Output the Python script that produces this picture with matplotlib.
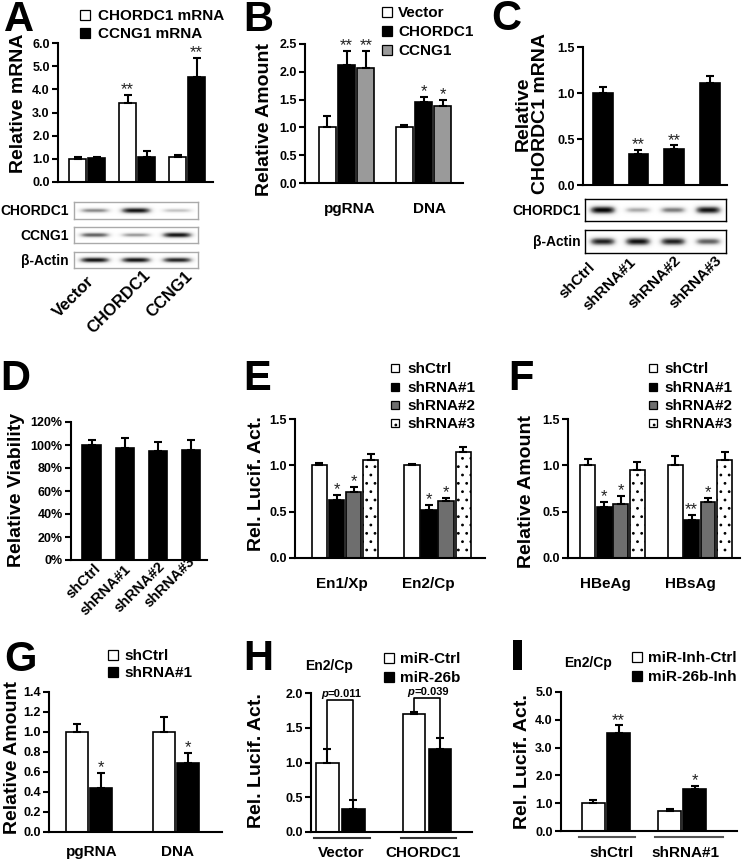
import numpy as np
import matplotlib
matplotlib.use('Agg')
import matplotlib.pyplot as plt
from matplotlib.patches import Rectangle
from matplotlib.transforms import blended_transform_factory

plt.rcParams['font.family'] = ['Liberation Sans', 'DejaVu Sans']
plt.rcParams['font.weight'] = 'bold'
plt.rcParams['hatch.linewidth'] = 0.8

# ---------------- data ----------------
A_groups = ['Vector', 'CHORDC1', 'CCNG1']
A_chordc1 = [1.00, 3.40, 1.07]
A_chordc1_err = [0.07, 0.36, 0.10]
A_chordc1_sig = ['', '**', '']
A_ccng1 = [1.02, 1.10, 4.52]
A_ccng1_err = [0.07, 0.22, 0.82]
A_ccng1_sig = ['', '', '**']
A_blot_rows = ['CHORDC1', 'CCNG1', 'β-Actin']
A_blot_chordc1 = [0.55, 0.95, 0.35]
A_blot_ccng1 = [0.70, 0.50, 0.95]
A_blot_actin = [0.95, 0.95, 0.90]

B_groups = ['pgRNA', 'DNA']
B_vector = [1.00, 1.00]
B_vector_err = [0.20, 0.05]
B_chordc1 = [2.13, 1.45]
B_chordc1_err = [0.24, 0.10]
B_chordc1_sig = ['**', '*']
B_ccng1 = [2.06, 1.39]
B_ccng1_err = [0.31, 0.10]
B_ccng1_sig = ['**', '*']

C_groups = ['shCtrl', 'shRNA#1', 'shRNA#2', 'shRNA#3']
C_vals = [1.00, 0.34, 0.39, 1.11]
C_err = [0.06, 0.04, 0.04, 0.08]
C_sig = ['', '**', '**', '']
C_blot_rows = ['CHORDC1', 'β-Actin']
C_blot_chordc1 = [1.00, 0.45, 0.60, 0.95]
C_blot_actin = [0.90, 0.95, 0.90, 0.70]

D_groups = ['shCtrl', 'shRNA#1', 'shRNA#2', 'shRNA#3']
D_vals = [1.00, 0.97, 0.95, 0.96]
D_err = [0.045, 0.09, 0.075, 0.085]

E_groups = ['En1/Xp', 'En2/Cp']
E_shctrl = [1.00, 1.00]
E_shctrl_err = [0.03, 0.015]
E_sh1 = [0.625, 0.52]
E_sh1_err = [0.055, 0.05]
E_sh1_sig = ['*', '*']
E_sh2 = [0.715, 0.615]
E_sh2_err = [0.05, 0.03]
E_sh2_sig = ['*', '*']
E_sh3 = [1.057, 1.14]
E_sh3_err = [0.07, 0.06]

F_groups = ['HBeAg', 'HBsAg']
F_shctrl = [1.00, 1.00]
F_shctrl_err = [0.07, 0.10]
F_sh1 = [0.553, 0.41]
F_sh1_err = [0.05, 0.055]
F_sh1_sig = ['*', '**']
F_sh2 = [0.58, 0.60]
F_sh2_err = [0.09, 0.05]
F_sh2_sig = ['*', '*']
F_sh3 = [0.95, 1.06]
F_sh3_err = [0.085, 0.085]

sh_labels = ['shCtrl', 'shRNA#1', 'shRNA#2', 'shRNA#3']

G_groups = ['pgRNA', 'DNA']
G_shctrl = [1.00, 1.00]
G_shctrl_err = [0.08, 0.15]
G_sh1 = [0.44, 0.69]
G_sh1_err = [0.15, 0.10]
G_sh1_sig = ['*', '*']

H_groups = ['Vector', 'CHORDC1']
H_mirctrl = [1.00, 1.70]
H_mirctrl_err = [0.20, 0.03]
H_mir26b = [0.33, 1.20]
H_mir26b_err = [0.13, 0.15]
H_pvals = ['0.011', '0.039']
H_bracket_top = [1.90, 1.93]

I_groups = ['shCtrl', 'shRNA#1']
I_inhctrl = [1.02, 0.72]
I_inhctrl_err = [0.08, 0.08]
I_inh26b = [3.52, 1.51]
I_inh26b_err = [0.28, 0.10]
I_inh26b_sig = ['**', '*']

# ---------------- helpers ----------------
W, H = 745, 861
PX = 100 / 72.0
fig = plt.figure(figsize=(W / 100, H / 100), dpi=100)


def add_ax(l, t, r, b):
    return fig.add_axes([l / W, 1 - b / H, (r - l) / W, (b - t) / H])


def ctext(x, y, s, fs, **kw):
    base = y + 0.358 * fs * PX
    fig.text(x / W, 1 - base / H, s, fontsize=fs, va='baseline', **kw)


def ylab(x, y, s, fs=14):
    fig.text((x + 0.1 * fs * PX) / W, 1 - y / H, s, fontsize=fs, rotation=90,
             ha='center', va='center', multialignment='center', linespacing=1.0)


def rotlab(x, y, s, fs=11):
    fig.text(x / W, 1 - y / H, s, fontsize=fs, rotation=45, ha='center',
             va='center', rotation_mode='anchor')


def letter(x, base, s):
    fig.text(x / W, 1 - base / H, s, fontsize=30, va='baseline', ha='left')


def legend(items, xm, xt, rows, size=10, fs=11):
    for (lab, fc, hatch), y in zip(items, rows):
        r = Rectangle(((xm - size / 2) / W, 1 - (y + size / 2) / H), size / W, size / H,
                      transform=fig.transFigure, facecolor=fc, edgecolor='k',
                      linewidth=0.9, hatch=hatch)
        fig.add_artist(r)
        ctext(xt, y, lab, fs, ha='left')


def bar_panel(rect, xlim, ylim, yticks, yticklabels, ngroups, series, width, offsets):
    ax = add_ax(*rect)
    x = np.arange(ngroups)
    for (vals, errs, fc, hatch, sig), off in zip(series, offsets):
        pos = x + off
        ax.bar(pos, vals, width, color=fc, edgecolor='k', linewidth=1.2, hatch=hatch,
               yerr=[np.zeros(len(vals)), errs],
               error_kw=dict(ecolor='k', elinewidth=1.5, capsize=3.2, capthick=1.5, zorder=3),
               zorder=2)
        if sig:
            for p, v, e, s in zip(pos, vals, errs, sig):
                if s:
                    ax.annotate(s, (p, v + e), xytext=(0, 0.5), textcoords='offset points',
                                ha='center', va='baseline', fontsize=12,
                                fontweight='normal', color='#222222')
    ax.set_xlim(*xlim)
    ax.set_ylim(*ylim)
    ax.set_yticks(yticks)
    ax.set_yticklabels(yticklabels, fontsize=9, fontweight='bold')
    ax.set_xticks([])
    for s in ['top', 'right']:
        ax.spines[s].set_visible(False)
    for s in ['left', 'bottom']:
        ax.spines[s].set_linewidth(1.5)
    ax.tick_params(axis='y', direction='out', length=4, width=1.5, pad=2)
    ax.patch.set_alpha(0)
    return ax


def blot(rect, intens, edge):
    ax = add_ax(*rect)
    n = len(intens)
    xs = np.linspace(0, n, 400)
    ys = np.linspace(0, 1, 60)
    X, Y = np.meshgrid(xs, ys)
    img = np.zeros_like(X)
    for i, a in enumerate(intens):
        wy = 0.09 + 0.09 * a
        img += a * np.exp(-((X - (i + 0.5)) / 0.36) ** 4) * np.exp(-((Y - 0.5) / wy) ** 2)
    ax.imshow(np.clip(img, 0, 1), extent=(0, n, 0, 1), aspect='auto', cmap='Greys',
              vmin=0, vmax=1, interpolation='bilinear')
    ax.set_xlim(0, n)
    ax.set_ylim(0, 1)
    ax.set_xticks([])
    ax.set_yticks([])
    for s in ax.spines.values():
        s.set_color(edge)
        s.set_linewidth(1.0)
    return ax


def fmt1(v):
    return '%.1f' % v


# ---------------- Panel A ----------------
bar_panel((58, 43, 213, 182), (-0.58, 2.52), (0, 6), np.arange(0, 6.1, 1),
          [fmt1(v) for v in np.arange(0, 6.1, 1)], 3,
          [(A_chordc1, A_chordc1_err, 'white', None, A_chordc1_sig),
           (A_ccng1, A_ccng1_err, 'black', None, A_ccng1_sig)],
          0.34, [-0.19, 0.19])
letter(4, 31, 'A')
ylab(17, 103, 'Relative mRNA')
legend([('CHORDC1 mRNA', 'white', None), ('CCNG1 mRNA', 'black', None)], 85, 98, [15, 33])
for rect, vals in zip([(74, 202, 198, 219), (74, 227, 198, 243), (74, 252, 198, 268)],
                      [A_blot_chordc1, A_blot_ccng1, A_blot_actin]):
    blot(rect, vals, '#aaaaaa')
for lab, y in zip(A_blot_rows, [210, 235, 260]):
    ctext(69, y, lab, 10, ha='right')
for lab, (x, y) in zip(A_groups, [(74, 297), (119, 302), (170, 294)]):
    rotlab(x, y, lab, 12)

# ---------------- Panel B ----------------
bar_panel((305, 44, 463, 183), (-0.54, 1.51), (0, 2.5), np.arange(0, 2.51, 0.5),
          [fmt1(v) for v in np.arange(0, 2.51, 0.5)], 2,
          [(B_vector, B_vector_err, 'white', None, None),
           (B_chordc1, B_chordc1_err, 'black', None, B_chordc1_sig),
           (B_ccng1, B_ccng1_err, '#9a9a9a', None, B_ccng1_sig)],
          0.22, [-0.25, 0.0, 0.25])
letter(243, 31, 'B')
ylab(263, 119, 'Relative Amount')
legend([('Vector', 'white', None), ('CHORDC1', 'black', None), ('CCNG1', '#9a9a9a', None)],
       387, 398, [12, 31, 50])
for lab, x in zip(B_groups, [350, 429]):
    ctext(x, 208, lab, 11, ha='center')

# ---------------- Panel C ----------------
bar_panel((583, 47, 727, 185), (-0.56, 3.49), (0, 1.5), np.arange(0, 1.51, 0.5),
          [fmt1(v) for v in np.arange(0, 1.51, 0.5)], 4,
          [(C_vals, C_err, 'black', None, C_sig)], 0.56, [0.0])
letter(491, 30, 'C')
ylab(530, 114, 'Relative\nCHORDC1 mRNA', 14)
for rect, vals in zip([(585, 199, 726, 221), (585, 230, 726, 253)],
                      [C_blot_chordc1, C_blot_actin]):
    blot(rect, vals, 'black')
for lab, y in zip(C_blot_rows, [210, 241]):
    ctext(581, y, lab, 10, ha='right')
for lab, (x, y) in zip(C_groups, [(577, 281), (610, 284), (655, 282), (696, 282)]):
    rotlab(x, y, lab, 11)

# ---------------- Panel D ----------------
bar_panel((71, 422, 207, 560), (-0.62, 3.48), (0, 1.2), np.arange(0, 1.21, 0.2),
          ['%d%%' % round(v * 100) for v in np.arange(0, 1.21, 0.2)], 4,
          [(D_vals, D_err, 'black', None, None)], 0.55, [0.0])
letter(0, 390, 'D')
ylab(15, 490, 'Relative Viability')
for lab, (x, y) in zip(D_groups, [(84, 581), (106, 590), (140, 587), (170, 582)]):
    rotlab(x, y, lab, 10.5)

# ---------------- Panel E ----------------
offE = [-0.276, -0.092, 0.092, 0.276]
bar_panel((295, 419, 485, 558), (-0.54, 1.51), (0, 1.5), np.arange(0, 1.51, 0.5),
          [fmt1(v) for v in np.arange(0, 1.51, 0.5)], 2,
          [(E_shctrl, E_shctrl_err, 'white', None, None),
           (E_sh1, E_sh1_err, 'black', None, E_sh1_sig),
           (E_sh2, E_sh2_err, '#6e6e6e', None, E_sh2_sig),
           (E_sh3, E_sh3_err, 'white', '..', None)],
          0.168, offE)
letter(243, 390, 'E')
ylab(255, 484, 'Rel. Lucif. Act.')
legend(list(zip(sh_labels, ['white', 'black', '#6e6e6e', 'white'], [None, None, None, '..'])),
       395, 407, [368, 387, 405, 423], size=8)
for lab, x in zip(E_groups, [342, 428]):
    ctext(x, 583, lab, 11, ha='center')

# ---------------- Panel F ----------------
offF = [-0.283, -0.094, 0.094, 0.283]
bar_panel((568, 419, 740, 558), (-0.51, 1.46), (0, 1.5), np.arange(0, 1.51, 0.5),
          [fmt1(v) for v in np.arange(0, 1.51, 0.5)], 2,
          [(F_shctrl, F_shctrl_err, 'white', None, None),
           (F_sh1, F_sh1_err, 'black', None, F_sh1_sig),
           (F_sh2, F_sh2_err, '#6e6e6e', None, F_sh2_sig),
           (F_sh3, F_sh3_err, 'white', '..', None)],
          0.17, offF)
letter(508, 390, 'F')
ylab(525, 492, 'Relative Amount')
legend(list(zip(sh_labels, ['white', 'black', '#6e6e6e', 'white'], [None, None, None, '..'])),
       653, 664, [368, 387, 405, 423], size=8)
for lab, x in zip(F_groups, [605, 690]):
    ctext(x, 583, lab, 11, ha='center')

# ---------------- Panel G ----------------
bar_panel((49, 692, 222, 832), (-0.46, 1.53), (0, 1.4), np.arange(0, 1.41, 0.2),
          [fmt1(v) for v in np.arange(0, 1.41, 0.2)], 2,
          [(G_shctrl, G_shctrl_err, 'white', None, None),
           (G_sh1, G_sh1_err, 'black', None, G_sh1_sig)],
          0.25, [-0.135, 0.135])
letter(4, 671, 'G')
ylab(11, 758, 'Relative Amount')
legend([('shCtrl', 'white', None), ('shRNA#1', 'black', None)], 113, 124, [655, 672])
for lab, x in zip(G_groups, [92, 177]):
    ctext(x, 851, lab, 11, ha='center')

# ---------------- Panel H ----------------
axH = bar_panel((311, 693, 472, 832), (-0.34, 1.52), (0, 2.0), np.arange(0, 2.01, 0.5),
                [fmt1(v) for v in np.arange(0, 2.01, 0.5)], 2,
                [(H_mirctrl, H_mirctrl_err, 'white', None, None),
                 (H_mir26b, H_mir26b_err, 'black', None, None)],
                0.26, [-0.15, 0.15])
for g in range(2):
    x0, x1 = g - 0.15, g + 0.15
    y0 = H_mirctrl[g] + H_mirctrl_err[g] + 0.01
    y1 = H_mir26b[g] + H_mir26b_err[g] + 0.01
    top = H_bracket_top[g]
    axH.plot([x0, x0, x1, x1], [y0, top, top, y1], color='k', lw=1.2, clip_on=False, zorder=4)
    axH.annotate('p', (g, top), xytext=(-9.3, 2.2), textcoords='offset points', ha='right',
                 va='baseline', fontsize=8, style='italic', fontweight='bold')
    axH.annotate('=' + H_pvals[g], (g, top), xytext=(-9.3, 2.2), textcoords='offset points',
                 ha='left', va='baseline', fontsize=8, fontweight='bold')
trH = blended_transform_factory(axH.transData, axH.transAxes)
for g in range(2):
    axH.plot([g - 0.3, g + 0.34], [-0.045, -0.045], transform=trH, clip_on=False,
             color='#333333', lw=1.5)
letter(243, 670, 'H')
ylab(255, 761, 'Rel. Lucif. Act.')
ctext(329, 665, 'En2/Cp', 10, ha='center')
legend([('miR-Ctrl', 'white', None), ('miR-26b', 'black', None)], 389, 400, [658, 677])
for lab, x in zip(H_groups, [341, 423]):
    ctext(x, 852, lab, 11, ha='center')

# ---------------- Panel I ----------------
axI = bar_panel((561, 692, 737, 831), (-0.59, 1.72), (0, 5.0), np.arange(0, 5.01, 1.0),
                [fmt1(v) for v in np.arange(0, 5.01, 1.0)], 2,
                [(I_inhctrl, I_inhctrl_err, 'white', None, None),
                 (I_inh26b, I_inh26b_err, 'black', None, I_inh26b_sig)],
                0.30, [-0.165, 0.165])
trI = blended_transform_factory(axI.transData, axI.transAxes)
for g in range(2):
    axI.plot([g - 0.36, g + 0.38 + 0.15 * g], [-0.045, -0.045], transform=trI, clip_on=False,
             color='#555555', lw=1.5)
fig.add_artist(Rectangle((513 / W, 1 - 670 / H), 9 / W, 30 / H, transform=fig.transFigure,
                         facecolor='black', edgecolor='none'))
ylab(521, 762, 'Rel. Lucif. Act.')
ctext(588, 662, 'En2/Cp', 10, ha='center')
legend([('miR-Inh-Ctrl', 'white', None), ('miR-26b-Inh', 'black', None)], 637, 648, [657, 676])
for lab, x in zip(I_groups, [612, 685]):
    ctext(x, 852, lab, 11, ha='center')

fig.savefig('out.png', dpi=100)
